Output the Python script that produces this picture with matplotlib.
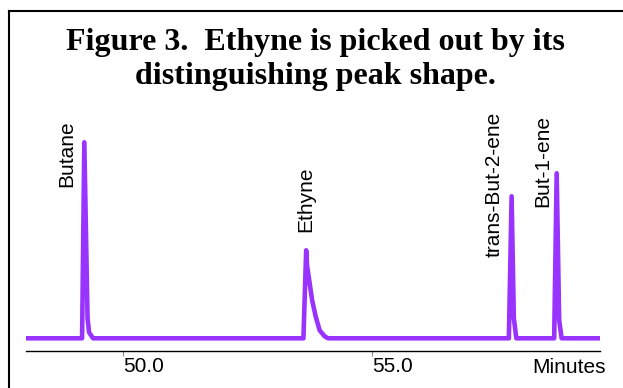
import matplotlib
matplotlib.use("Agg")
import matplotlib.pyplot as plt
from matplotlib.lines import Line2D

# trace vertices (minutes, detector signal)
t_trace = [48.05,
           49.18, 49.225, 49.29, 49.32, 49.40,
           53.625, 53.68, 53.70, 53.75, 53.80, 53.87, 53.95, 54.05, 54.12,
           57.75, 57.805, 57.85, 57.90,
           58.66, 58.71, 58.76, 58.81,
           59.58]
s_trace = [0,
           0, 196, 20, 6, 0,
           0, 88, 72, 55, 38, 22, 8, 2, 0,
           0, 142, 20, 0,
           0, 165, 18, 0,
           0]

peak_names = ["Butane", "Ethyne", "trans-But-2-ene", "But-1-ene"]
label_t = [48.876, 53.665, 57.46, 58.424]
label_s = [151.3, 106.3, 81.3, 131.3]

xticks = [50.0, 55.0]
xticklabels = ["50.0", "55.0"]

W, H = 623, 388
fig = plt.figure(figsize=(W / 100, H / 100), dpi=100)
fig.patch.set_facecolor("white")

ax = fig.add_axes([25.8 / W, 37 / H, (600 - 25.8) / W, 251 / H])
ax.plot(t_trace, s_trace, color="#9933FF", lw=3.3,
        solid_joinstyle="round", solid_capstyle="butt")

ax.set_xlim(48.05, 59.58)
ax.set_ylim(-12.7, 238.3)
for side in ["top", "left", "right"]:
    ax.spines[side].set_visible(False)
ax.spines["bottom"].set_linewidth(1.0)
ax.set_yticks([])
ax.set_xticks(xticks)
ax.set_xticklabels(xticklabels, ha="left", family="Liberation Sans", fontsize=15)
ax.tick_params(axis="x", direction="out", length=3.6, width=0.8,
               color="#888888", pad=1)
for lab in ax.get_xticklabels():
    lab.set_horizontalalignment("left")

for name, t, s in zip(peak_names, label_t, label_s):
    ax.text(t, s, name, rotation=90, ha="center", va="bottom",
            family="Liberation Sans", fontsize=15)

fig.text(606 / W, 1 - 373.3 / H, "Minutes", ha="right", va="baseline",
         family="Liberation Sans", fontsize=15)

# title
fig.text(315 / W, 1 - 50 / H, "Figure 3.  Ethyne is picked out by its",
         ha="center", va="baseline", family="Liberation Serif",
         fontweight="bold", fontsize=23)
fig.text(315 / W, 1 - 84 / H, "distinguishing peak shape.",
         ha="center", va="baseline", family="Liberation Serif",
         fontweight="bold", fontsize=23)

# surrounding frame (runs off the right and bottom edges)
fig.add_artist(Line2D([8.5 / W, 8.5 / W], [0, 1 - 11 / H],
                      transform=fig.transFigure, color="black", lw=1.5))
fig.add_artist(Line2D([8.5 / W, 1], [1 - 11 / H, 1 - 11 / H],
                      transform=fig.transFigure, color="black", lw=1.5))

fig.savefig("out.png", dpi=100)
